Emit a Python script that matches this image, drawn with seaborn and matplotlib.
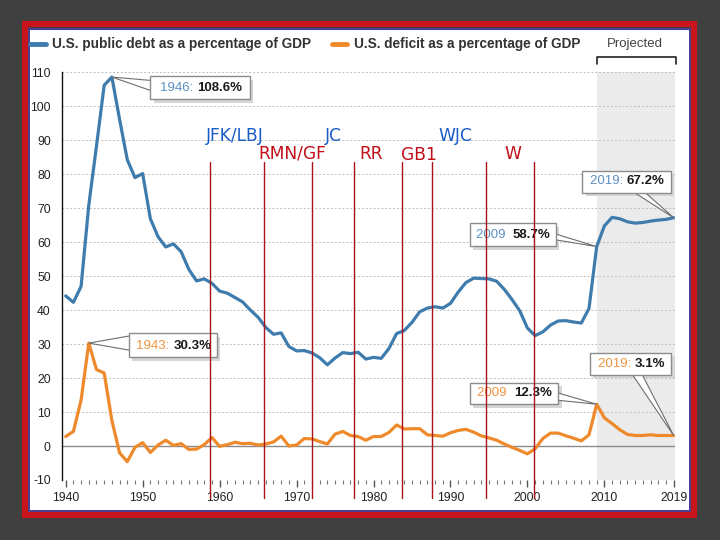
import matplotlib
matplotlib.use("Agg")
import matplotlib.pyplot as plt
import seaborn as sns
import pandas as pd
from matplotlib.patches import Rectangle, Polygon
from matplotlib.lines import Line2D

# ---------------- data ----------------
years = list(range(1940, 2020))
debt = [44.2, 42.3, 47.0, 70.9, 88.3, 106.2, 108.6, 96.2, 84.3, 79.0,
        80.2, 66.9, 61.6, 58.6, 59.5, 57.2, 52.0, 48.6, 49.2, 47.9,
        45.6, 45.0, 43.7, 42.4, 40.0, 37.9, 34.9, 32.9, 33.3, 29.3,
        28.0, 28.1, 27.4, 26.0, 23.9, 25.9, 27.5, 27.2, 27.6, 25.6,
        26.1, 25.8, 28.7, 33.1, 34.0, 36.4, 39.5, 40.6, 41.0, 40.6,
        42.0, 45.3, 48.1, 49.4, 49.3, 49.2, 48.5, 46.1, 43.1, 39.8,
        34.7, 32.5, 33.6, 35.6, 36.8, 36.9, 36.5, 36.2, 40.5, 58.7,
        64.8, 67.3, 66.9, 66.0, 65.6, 65.8, 66.2, 66.5, 66.7, 67.2]
deficit = [2.8, 4.3, 13.5, 30.3, 22.5, 21.5, 7.5, -2.0, -4.6, -0.4,
           1.0, -1.9, 0.3, 1.7, 0.2, 0.7, -1.0, -0.9, 0.4, 2.5,
           -0.1, 0.4, 1.1, 0.7, 0.8, 0.3, 0.6, 1.2, 2.9, 0.0,
           0.3, 2.2, 2.1, 1.3, 0.6, 3.5, 4.3, 3.1, 2.8, 1.7,
           2.8, 2.8, 4.0, 6.2, 5.0, 5.1, 5.1, 3.3, 3.1, 2.9,
           3.9, 4.6, 4.9, 4.1, 3.0, 2.4, 1.7, 0.6, -0.4, -1.3,
           -2.3, -0.8, 2.2, 3.8, 3.8, 3.0, 2.3, 1.5, 3.3, 12.3,
           8.3, 6.6, 4.8, 3.4, 3.1, 3.1, 3.3, 3.1, 3.1, 3.1]

series_names = ["U.S. public debt as a percentage of GDP",
                "U.S. deficit as a percentage of GDP"]

x_tick_years = [1940, 1950, 1960, 1970, 1980, 1990, 2000, 2010, 2019]
x_tick_labels = ["1940", "1950", "1960", "1970", "1980", "1990", "2000", "2010", "2019"]
y_ticks = [-10, 0, 10, 20, 30, 40, 50, 60, 70, 80, 90, 100, 110]
y_tick_labels = ["-10", "0", "10", "20", "30", "40", "50", "60", "70", "80", "90", "100", "110"]

projected_start, projected_end = 2009, 2019.2

# presidential term markers (hand-drawn in the original)
term_lines = [1958.8, 1965.8, 1972.0, 1977.5, 1983.7, 1987.6, 1994.6, 2000.9]
term_labels = ["JFK/LBJ", "RMN/GF", "JC", "RR", "GB1", "WJC", "W"]
term_label_x = [1962.0, 1969.4, 1974.8, 1979.75, 1985.9, 1990.7, 1998.1]
term_label_y = [91.3, 86.0, 91.3, 86.0, 85.8, 91.3, 86.0]
term_party = ["D", "R", "D", "R", "R", "D", "R"]

# callouts: label, value text, series, point, box(x0,x1,y0,y1), text start, wedge base
callout_label = ["1946:", "1943:", "2009", "2019:", "2009", "2019:"]
callout_value = ["108.6%", "30.3%", "58.7%", "67.2%", "12.3%", "3.1%"]
callout_series = [0, 1, 0, 0, 1, 1]
callout_point = [(1946, 108.6), (1943, 30.3), (2009, 58.7), (2019, 67.2), (2009, 12.3), (2019, 3.1)]
callout_box = [(1951.0, 1963.9, 102.1, 108.8), (1948.2, 1959.6, 26.1, 33.2),
               (1992.5, 2003.7, 58.8, 65.5), (2007.1, 2018.6, 74.6, 80.9),
               (1992.5, 2004.0, 12.3, 18.6), (2008.1, 2018.7, 20.9, 27.4)]
callout_text = [(1952.3, 105.3, " "), (1949.2, 29.4, " "), (1993.3, 62.1, "  "),
                (2008.1, 77.9, " "), (1993.5, 15.5, "  "), (2009.2, 24.1, " ")]
callout_base = [((1951.6, 107.5), (1951.6, 104.2)), ((1948.8, 32.6), (1948.8, 28.0)),
                ((2003.1, 62.8), (2003.1, 60.9)), ((2013.5, 75.2), (2015.0, 75.2)),
                ((2003.4, 16.0), (2003.4, 13.6)), ((2013.5, 21.5), (2014.8, 21.5))]

# ---------------- style ----------------
sns.set_style("white")
plt.rcParams['font.family'] = ['Liberation Sans', 'DejaVu Sans']

BLUE = "#3f7cae"
ORANGE = "#ef8a2c"
BLUE_TXT = "#5b8fc0"
ORANGE_TXT = "#ee9440"
RED_LINE = "#a8141a"
DEM = "#1a5cc8"
REP = "#c0101a"

W, H = 720, 540
def fx(x):
    return x / W
def fy(y):
    return 1 - y / H

fig = plt.figure(figsize=(7.2, 5.4), dpi=100, facecolor="#404040")

# frame: white panel, purple inner line, red border
fig.patches.append(Rectangle((fx(30), fy(510)), 659 / W, 480 / H, transform=fig.transFigure,
                             facecolor="white", edgecolor="none", zorder=-3))
fig.patches.append(Rectangle((fx(29), fy(511)), 661 / W, 482 / H, transform=fig.transFigure,
                             fill=False, edgecolor="#4a3f9c", lw=1.3, zorder=-2))
fig.patches.append(Rectangle((fx(25), fy(515)), 669 / W, 491 / H, transform=fig.transFigure,
                             fill=False, edgecolor="#c8151b", lw=4.4, zorder=-2))

ax = fig.add_axes([fx(61.85), fy(480), (675.2 - 61.85) / W, (480 - 72.3) / H])
ax.set_facecolor("none")

ax.set_xlim(1939.5, 2019.2)
ax.set_ylim(-10, 110)

# projected shading
ax.axvspan(projected_start, projected_end, color="#ebebeb", lw=0, zorder=0)

# grid lines
for v in y_ticks:
    if v > 0:
        ax.axhline(v, color="#bdbdbd", lw=0.7, ls=(0, (2, 2)), zorder=1)
ax.axhline(0, color="#8a8a8a", lw=1.0, zorder=1)

# data lines
df = pd.DataFrame({
    "year": years + years,
    "value": debt + deficit,
    "series": [series_names[0]] * len(years) + [series_names[1]] * len(years),
})
sns.lineplot(data=df, x="year", y="value", hue="series", palette=[BLUE, ORANGE],
             lw=2.3, legend=False, ax=ax, zorder=3)

# callouts
for i in range(len(callout_label)):
    px, py = callout_point[i]
    x0, x1, y0, y1 = callout_box[i]
    (bx1, by1), (bx2, by2) = callout_base[i]
    ax.add_patch(Rectangle((x0 + 0.45, y0 - 1.0), x1 - x0, y1 - y0, facecolor="#d6d6d6",
                           edgecolor="none", zorder=5, clip_on=False))
    ax.add_patch(Polygon([(px, py), (bx1, by1), (bx2, by2)], closed=True, facecolor="white",
                         edgecolor="#6e6e6e", lw=0.8, zorder=6, clip_on=False))
    ax.add_patch(Rectangle((x0, y0), x1 - x0, y1 - y0, facecolor="white",
                           edgecolor="#8c8c8c", lw=1.0, zorder=7, clip_on=False))
    tx, ty, sep = callout_text[i]
    lc = BLUE_TXT if callout_series[i] == 0 else ORANGE_TXT
    t1 = ax.text(tx, ty, callout_label[i] + sep, color=lc, fontsize=9.5, ha="left",
                 va="center", zorder=8)
    ax.annotate(callout_value[i], xy=(1, 0.5), xycoords=t1, ha="left", va="center",
                fontsize=9.5, color="#1a1a1a", fontweight="bold", zorder=8)

# presidential term lines & labels (on top)
for xv in term_lines:
    ax.plot([xv, xv], [-15.3, 83.5], color=RED_LINE, lw=1.0, zorder=10, clip_on=False)
for lab, xv, yv, p in zip(term_labels, term_label_x, term_label_y, term_party):
    ax.text(xv, yv, lab, color=DEM if p == "D" else REP, fontsize=12.3, ha="center",
            va="center", family="DejaVu Sans", zorder=11)

# axes styling
for s in ["top", "right", "bottom"]:
    ax.spines[s].set_visible(False)
ax.spines["left"].set_color("#111111")
ax.spines["left"].set_linewidth(1.0)
ax.set_yticks(y_ticks)
ax.set_yticklabels(y_tick_labels)
ax.set_xticks(x_tick_years)
ax.set_xticklabels(x_tick_labels)
ax.set_xticks(years, minor=True)
ax.tick_params(axis="y", length=0, pad=8, labelsize=8.8, labelcolor="#222222")
ax.tick_params(axis="x", which="major", direction="out", length=4.8, width=1.0,
               color="#555555", pad=3.5, labelsize=8.8, labelcolor="#222222", bottom=True)
ax.tick_params(axis="x", which="minor", direction="out", length=2.9, width=0.8,
               color="#777777", bottom=True)
ax.set_xlabel("")
ax.set_ylabel("")

# legend (manual, top strip)
ly = fy(43.7)
fig.add_artist(Line2D([fx(30), fx(46)], [ly, ly], transform=fig.transFigure, color=BLUE, lw=3.5))
fig.text(fx(52), ly, series_names[0], fontsize=9.8, fontweight="bold", color="#333333",
         ha="left", va="center")
fig.add_artist(Line2D([fx(332), fx(347)], [ly, ly], transform=fig.transFigure, color=ORANGE, lw=3.5))
fig.text(fx(354), ly, series_names[1], fontsize=9.8, fontweight="bold", color="#333333",
         ha="left", va="center")
fig.text(fx(607), ly, "Projected", fontsize=9.5, color="#444444", ha="left", va="center")
fig.add_artist(Line2D([fx(597), fx(597), fx(676), fx(676)],
                      [fy(63.7), fy(56.8), fy(56.8), fy(63.7)],
                      transform=fig.transFigure, color="#222222", lw=1.2))

fig.savefig("out.png", dpi=100, facecolor=fig.get_facecolor())
